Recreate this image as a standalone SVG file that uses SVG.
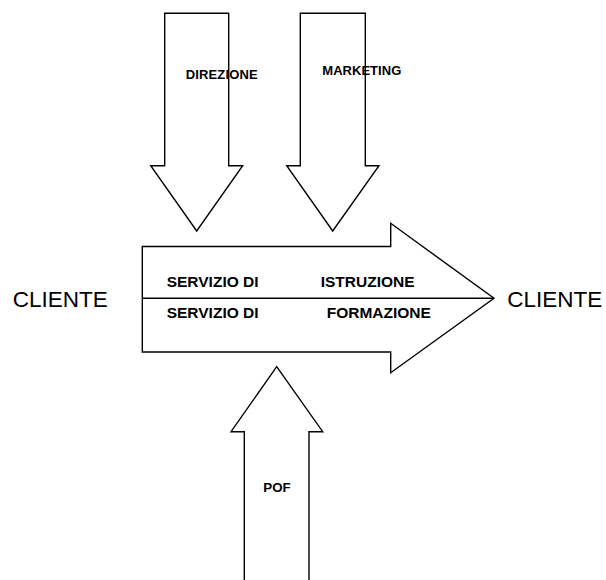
<svg xmlns="http://www.w3.org/2000/svg" width="606" height="580" viewBox="0 0 606 580">
<style>
.ar{fill:#fff;stroke:#000;stroke-width:1.4;stroke-linejoin:miter}
.ln{stroke:#000;stroke-width:1.4;fill:none}
.b{font-family:"Liberation Sans",Arial,sans-serif;font-weight:bold;fill:#000}
.r{font-family:"Liberation Sans",Arial,sans-serif;fill:#000}
</style>
<rect width="606" height="580" fill="#fff"/>
<g id="direzione">
<polygon class="ar" points="164.7,13.3 228.7,13.3 228.7,165.7 242.7,165.7 196.7,231 150.7,165.7 164.7,165.7"/>
<text class="b" x="185.7" y="79" font-size="13" textLength="72">DIREZIONE</text>
</g>
<g id="marketing">
<polygon class="ar" points="300.3,13.3 365.3,13.3 365.3,165.7 379,165.7 332.7,231 286.7,165.7 300.3,165.7"/>
<text class="b" x="322.3" y="75.3" font-size="13" textLength="79">MARKETING</text>
</g>
<g id="servizio">
<polygon class="ar" points="142.3,246.5 390.7,246.5 390.7,223.3 494,298.3 390.7,372.7 390.7,352 142.3,352"/>
<text class="b" x="166.7" y="286.7" font-size="15.5">SERVIZIO DI</text>
<text class="b" x="320.7" y="286.7" font-size="15.5">ISTRUZIONE</text>
<text class="b" x="166.7" y="318.3" font-size="15.5">SERVIZIO DI</text>
<text class="b" x="326.7" y="318.3" font-size="15.5">FORMAZIONE</text>
</g>
<g id="pof">
<polygon class="ar" points="276.7,366.7 322.7,431.7 309,431.7 309,585 244.3,585 244.3,431.7 231,431.7"/>
<text class="b" x="263.3" y="491.7" font-size="13.3">POF</text>
</g>
<g id="cliente-left">
<text class="r" x="12.7" y="306.7" font-size="22.5">CLIENTE</text>
</g>
<g id="cliente-right">
<text class="r" x="507.3" y="306.7" font-size="22.5">CLIENTE</text>
</g>
<g id="connectors">
<line class="ln" x1="142.3" y1="298.3" x2="494" y2="298.3"/>
</g>
</svg>
